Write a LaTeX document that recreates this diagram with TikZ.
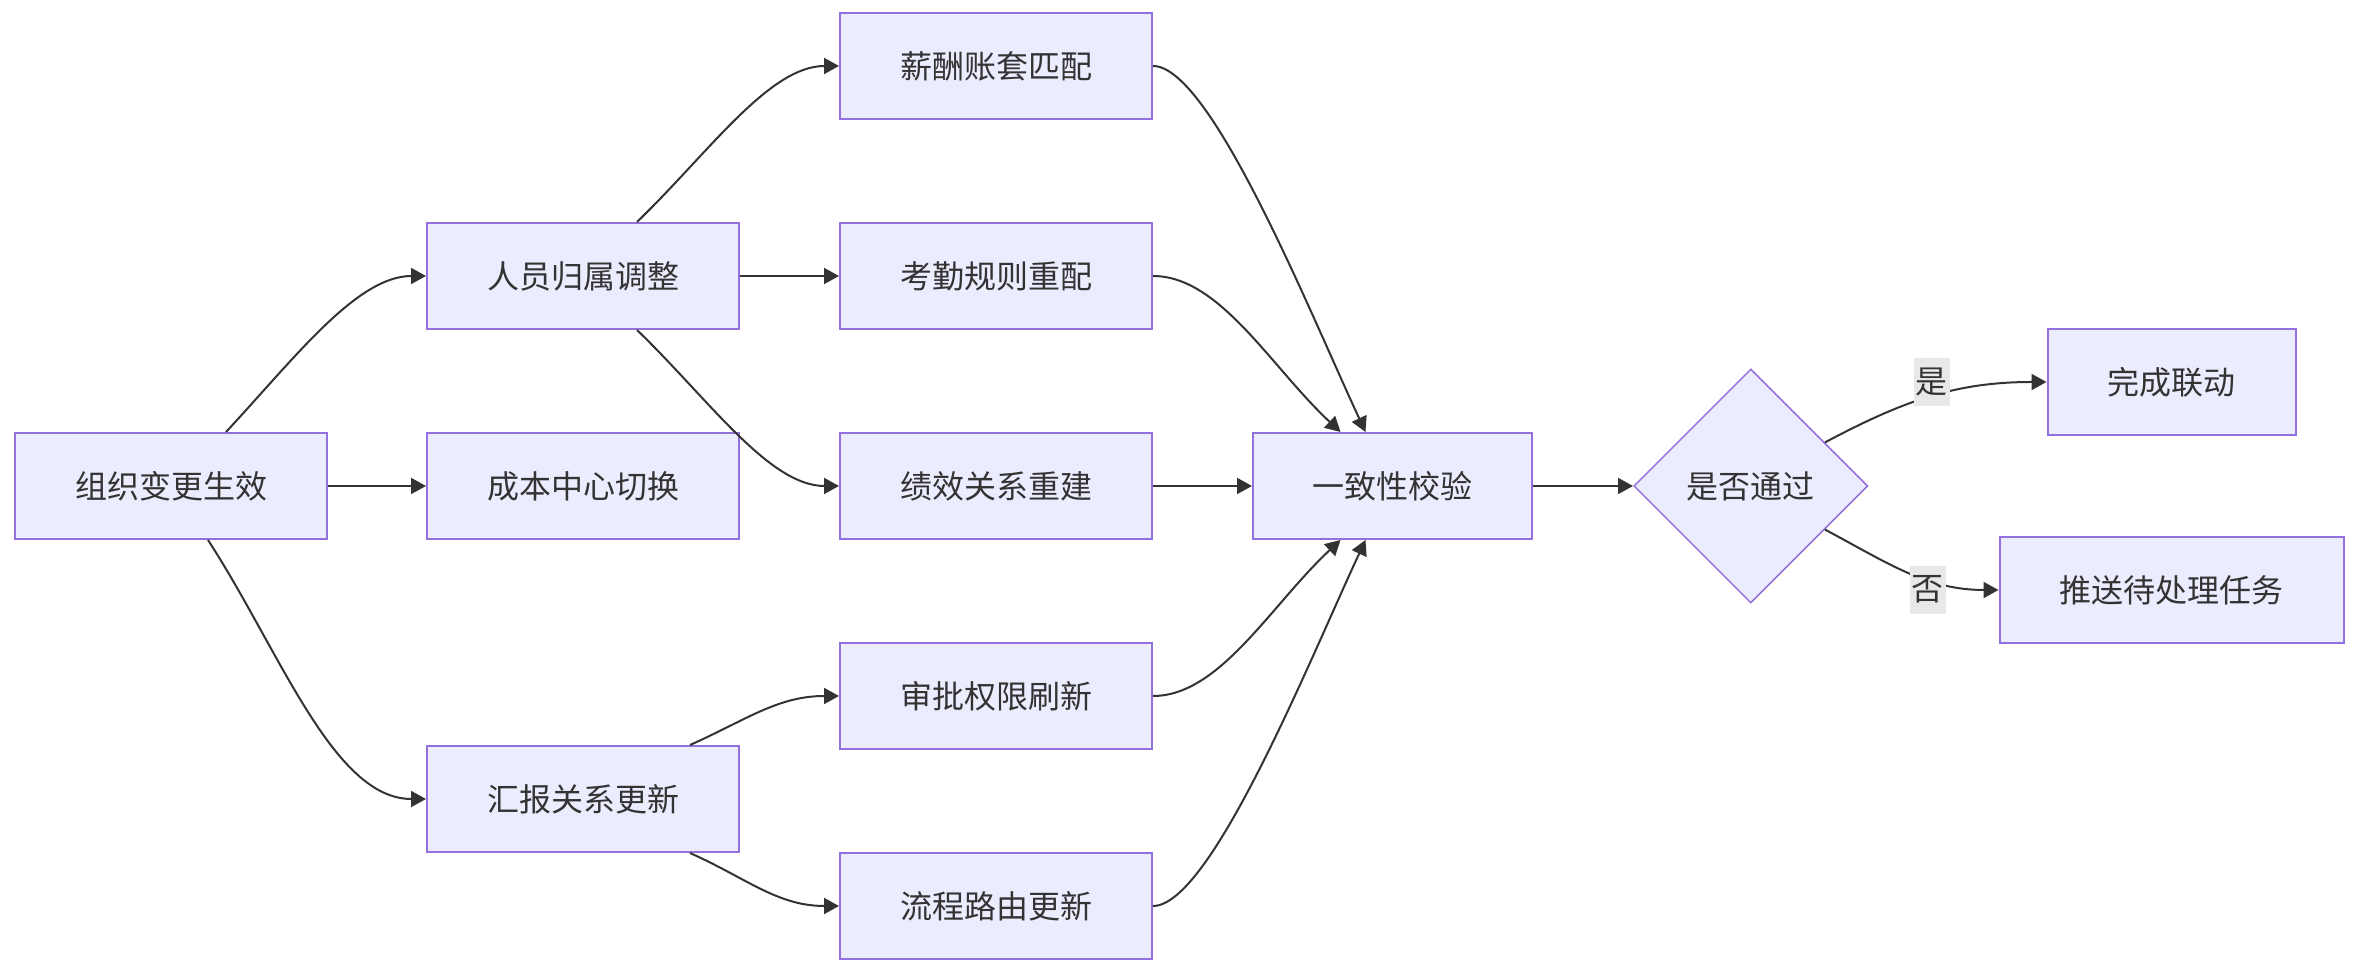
\documentclass[tikz,border=0pt]{standalone}
\usepackage{fontspec}
\setmainfont{Noto Sans CJK SC}
\usepackage{tikz}
\usetikzlibrary{shapes.geometric, arrows.meta, positioning, calc}
\definecolor{cFill}{HTML}{ECECFF}
\definecolor{cEdge}{HTML}{9370DB}
\definecolor{cLine}{HTML}{333333}
\definecolor{cTag}{HTML}{E8E8E8}
\tikzset{
  box/.style={
    rectangle, draw=cEdge, fill=cFill, line width=1pt,
    minimum width=156pt, minimum height=53pt,
    inner sep=0pt, align=center, text=cLine,
    font=\fontsize{16}{19}\selectfont
  },
  dbox/.style={
    diamond, aspect=1, draw=cEdge, fill=cFill, line width=0.75pt,
    minimum width=117pt, minimum height=117pt,
    inner sep=0pt, align=center, text=cLine,
    font=\fontsize{16}{19}\selectfont
  },
  arrow/.style={-{Triangle[length=7.5pt, width=8pt]}, line width=1pt, cLine},
  tag/.style={
    fill=cTag, text=cLine, inner xsep=1pt, inner ysep=0pt,
    minimum height=24pt, font=\fontsize{16}{19}\selectfont
  },
}

\begin{document}
\begin{tikzpicture}[node distance=51pt and 49.5pt]

  \useasboundingbox (-85.5pt,-243pt) rectangle (1094.5pt,243pt);

  % Trigger
  \node[box] (org) at (0,0) {组织变更生效};

  % First wave
  \node[box, right=49pt of org] (cost) {成本中心切换};
  \node[box, below=102.5pt of cost] (report) {汇报关系更新};

  % Second wave
  \node[box, right=of cost] (perf) {绩效关系重建};
  \node[box, above=of perf] (att) {考勤规则重配};
  \node[box, above=of att] (pay) {薪酬账套匹配};
  \node[box, below=of perf] (appr) {审批权限刷新};
  \node[box, below=of appr] (flow) {流程路由更新};
  \node[box, left=of att] (staff) {人员归属调整};

  % Check
  \node[box, minimum width=139.5pt, right=of perf] (check) {一致性校验};
  \node[dbox, right=50pt of check] (pass) {是否通过};

  % Outcome
  \node[box, minimum width=124pt, right=89pt of pass, yshift=52pt] (done) {完成联动};
  \node[box, minimum width=172pt, right=65pt of pass, yshift=-52pt] (task) {推送待处理任务};

  % Arrows from trigger
  \draw[arrow] ([xshift=27.5pt]org.north) to[out=47, in=180, in looseness=0.7] (staff.west);
  \draw[arrow] (org) -- (cost);
  \draw[arrow] ([xshift=18.5pt]org.south) to[out=-57, in=180, in looseness=0.7] (report.west);

  % Arrows first wave
  \draw[arrow] ([xshift=27pt]staff.north) to[out=44, in=180, in looseness=0.7] (pay.west);
  \draw[arrow] (staff) -- (att);
  \draw[arrow] ([xshift=27pt]staff.south) to[out=-44, in=180, in looseness=0.7] (perf.west);
  \draw[arrow] ([xshift=53.5pt]report.north) to[out=24, in=180] (appr.west);
  \draw[arrow] ([xshift=53.5pt]report.south) to[out=-24, in=180] (flow.west);

  % Arrows into check
  \draw[arrow] (pay.east) to[out=0, in=115, out looseness=0.35, in looseness=0.8] ([xshift=-13.5pt]check.north);
  \draw[arrow] (att.east) to[out=0, in=137, out looseness=0.7] ([xshift=-26pt]check.north);
  \draw[arrow] (perf) -- (check);
  \draw[arrow] (appr.east) to[out=0, in=-137, out looseness=0.7] ([xshift=-26pt]check.south);
  \draw[arrow] (flow.east) to[out=0, in=-115, out looseness=0.35, in looseness=0.8] ([xshift=-13.5pt]check.south);
  \draw[arrow] (check) -- (pass);

  % Decision
  \draw[arrow] ($(pass.north)!0.63!(pass.east)$) to[out=28, in=180] node[tag, yshift=7pt] {是} (done.west);
  \draw[arrow] ($(pass.south)!0.63!(pass.east)$) to[out=-28, in=180] node[tag, pos=0.62, yshift=-5pt] {否} (task.west);

\end{tikzpicture}
\end{document}
